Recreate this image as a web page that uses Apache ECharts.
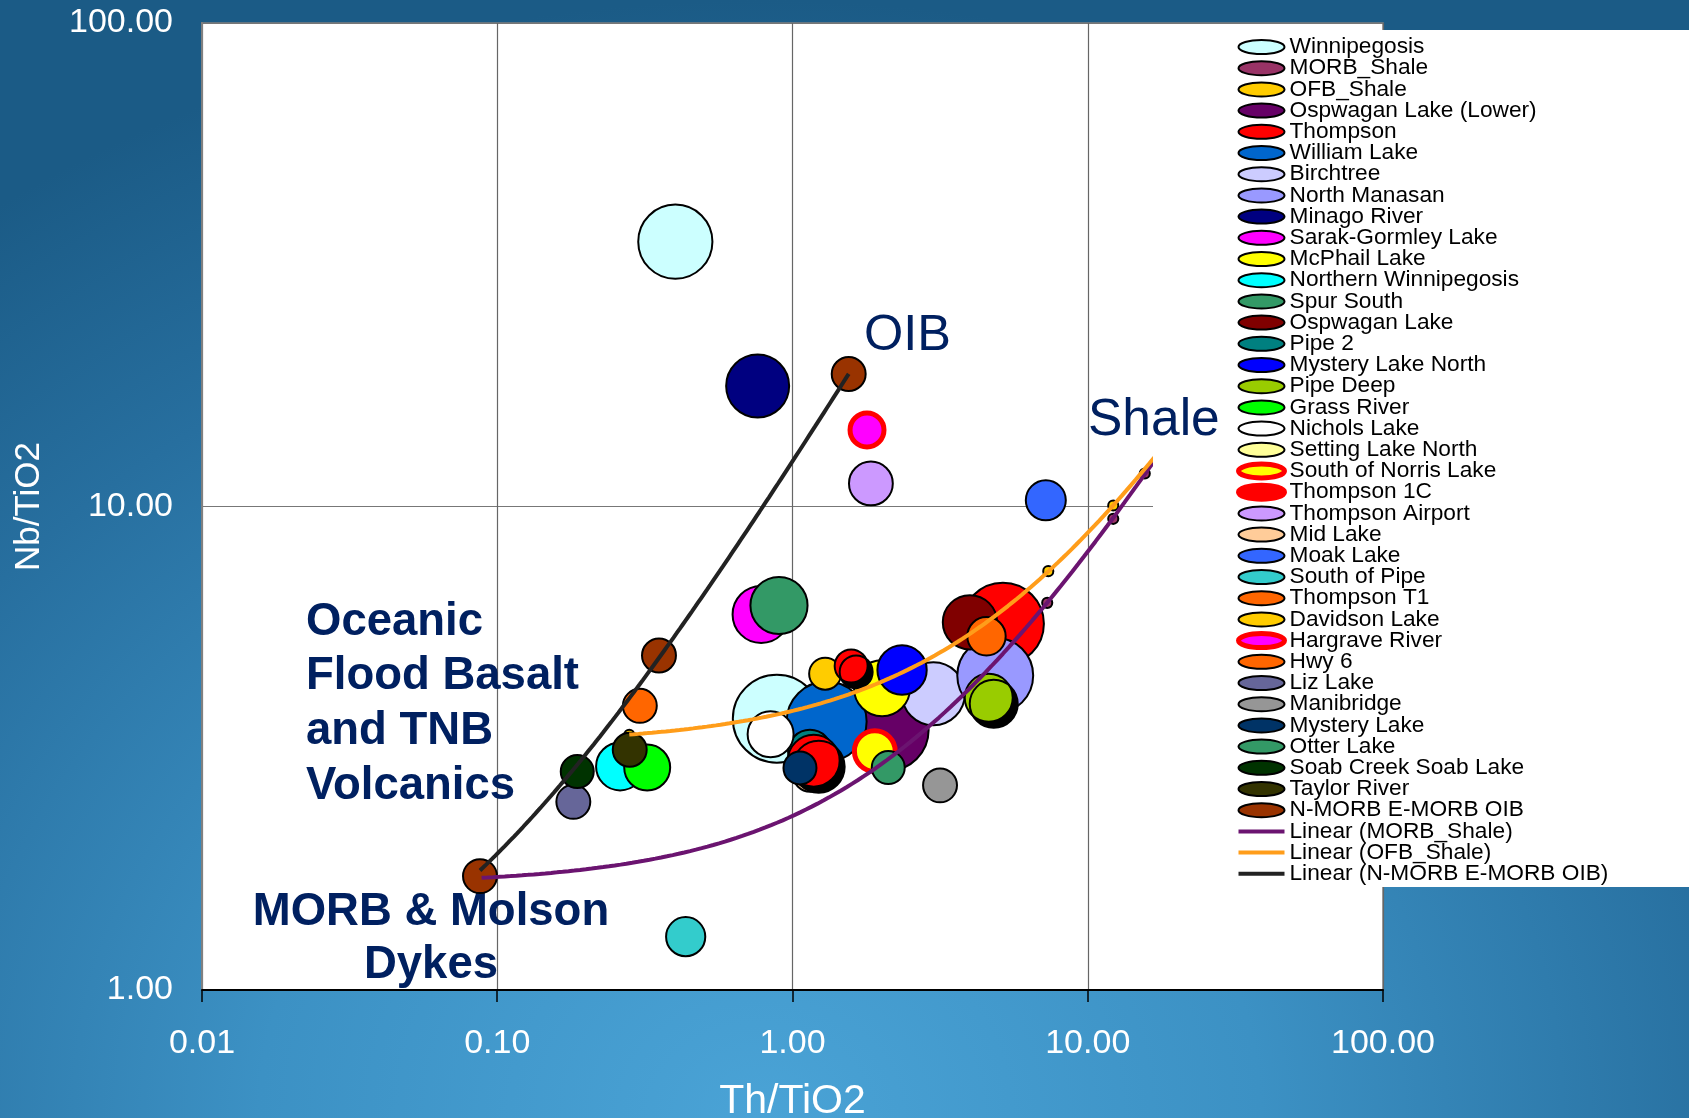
<!DOCTYPE html>
<html>
<head>
<meta charset="utf-8">
<script src="https://cdn.jsdelivr.net/npm/echarts@6/dist/echarts.min.js"></script>
<style>
  html, body { margin: 0; padding: 0; }
  #chart {
    width: 1689px; height: 1118px;
    background: radial-gradient(ellipse 78% 100% at 45% 100%, #4aa3d6 0%, #3c91c4 38%, #276f9f 75%, #1b5b86 100%);
  }
</style>
</head>
<body>
<div id="chart"></div>
<script>
// Th/TiO2 vs Nb/TiO2 — each point is [Th/TiO2, Nb/TiO2, bubble size]
const winnipegosis        = [[0.401, 35.3, 86], [0.885, 3.64, 121]];
const morbShale           = [[0.0885, 1.72, 1.6], [7.29, 6.32, 1.6], [12.2, 9.43, 1.6], [15.6, 11.7, 1.6]];
const ofbShale            = [[0.28, 3.37, 1.6], [7.35, 7.35, 1.6], [12.2, 10.05, 1.6]];
const ospwaganLower       = [[2.10, 3.45, 105]];
const thompson            = [[1.58, 4.68, 17], [1.18, 2.98, 42]];
const williamLake         = [[1.305, 3.59, 100]];
const birchtree           = [[3.0, 4.10, 62]];
const northManasan        = [[4.86, 4.47, 90]];
const minagoRiver         = [[0.762, 17.75, 62]];
const sarakGormley        = [[0.783, 5.98, 51]];
const mcphailLake         = [[2.01, 4.21, 49]];
const northernWinnipegosis= [[0.2606, 2.90, 36]];
const spurSouth           = [[0.90, 6.24, 51]];
const ospwaganLake        = [[3.99, 5.76, 46]];
const pipe2               = [[1.146, 3.11, 30]];
const mysteryLakeNorth    = [[2.35, 4.59, 38]];
const pipeDeep            = [[4.62, 4.02, 36]];
const grassRiver          = [[0.322, 2.885, 33]];
const nicholsLake         = [[0.843, 3.38, 33]];
const settingLakeNorth    = [];
const southOfNorris       = [[1.90, 3.12, 26]];
const thompson1C          = [[5.16, 5.72, 105]];
const thompsonAirport     = [[1.843, 11.16, 30]];
const midLake             = [[1.15, 2.80, 20]];
const moakLake            = [[7.21, 10.3, 25]];
const southOfPipe         = [[0.4347, 1.289, 24]];
const thompsonT1          = [[4.54, 5.39, 23]];
const davidsonLake        = [[1.29, 4.51, 16]];
const hargraveRiver       = [[1.788, 14.4, 18]];
const hwy6                = [[0.304, 3.87, 18]];
const lizLake             = [[0.181, 2.45, 18]];
const manibridge          = [[3.16, 2.65, 18]];
const mysteryLake         = [[1.06, 2.88, 17]];
const otterLake           = [[2.11, 2.885, 17]];
const soabCreek           = [[0.1866, 2.83, 17]];
const taylorRiver         = [[0.281, 3.14, 18]];
const nmorbEmorbOib       = [[0.0874, 1.72, 18], [0.353, 4.92, 18], [1.55, 18.8, 18]];

const xTickLabels = ['0.01', '0.10', '1.00', '10.00', '100.00'];
const yTickLabels = ['1.00', '10.00', '100.00'];

// [name, data, fill, extra style]
const groups = [
  ['Winnipegosis', winnipegosis, '#ccffff'],
  ['MORB_Shale', morbShale, '#993366'],
  ['OFB_Shale', ofbShale, '#ffcc00'],
  ['Ospwagan Lake (Lower)', ospwaganLower, '#660066'],
  ['Thompson', thompson, '#ff0000', { shadow: true, z: 2.1 }],
  ['William Lake', williamLake, '#0066cc'],
  ['Birchtree', birchtree, '#ccccff'],
  ['North Manasan', northManasan, '#9999ff'],
  ['Minago River', minagoRiver, '#000080'],
  ['Sarak-Gormley Lake', sarakGormley, '#ff00ff'],
  ['McPhail Lake', mcphailLake, '#ffff00'],
  ['Northern Winnipegosis', northernWinnipegosis, '#00ffff'],
  ['Spur South', spurSouth, '#339966'],
  ['Ospwagan Lake', ospwaganLake, '#800000'],
  ['Pipe 2', pipe2, '#008080'],
  ['Mystery Lake North', mysteryLakeNorth, '#0000ff'],
  ['Pipe Deep', pipeDeep, '#99cc00', { shadow: true }],
  ['Grass River', grassRiver, '#00ff00'],
  ['Nichols Lake', nicholsLake, '#ffffff'],
  ['Setting Lake North', settingLakeNorth, '#ffff99'],
  ['South of Norris Lake', southOfNorris, '#ffff00', { ring: true }],
  ['Thompson 1C', thompson1C, '#ff0000', { z: 1.9, legendRed: true }],
  ['Thompson Airport', thompsonAirport, '#cc99ff'],
  ['Mid Lake', midLake, '#ffcc99'],
  ['Moak Lake', moakLake, '#3366ff'],
  ['South of Pipe', southOfPipe, '#33cccc'],
  ['Thompson T1', thompsonT1, '#ff6600'],
  ['Davidson Lake', davidsonLake, '#ffcc00'],
  ['Hargrave River', hargraveRiver, '#ff00ff', { ring: true }],
  ['Hwy 6', hwy6, '#ff6600'],
  ['Liz Lake', lizLake, '#666699'],
  ['Manibridge', manibridge, '#969696'],
  ['Mystery Lake', mysteryLake, '#003366', { z: 2.2 }],
  ['Otter Lake', otterLake, '#339966'],
  ['Soab Creek Soab Lake', soabCreek, '#003300'],
  ['Taylor River', taylorRiver, '#333300'],
  ['N-MORB E-MORB OIB', nmorbEmorbOib, '#993300']
];

// least-squares straight line y = a + b·x, drawn over the log axes
function linearTrend(points, xEnd) {
  const n = points.length;
  const mx = points.reduce((s, p) => s + p[0], 0) / n;
  const my = points.reduce((s, p) => s + p[1], 0) / n;
  let sxx = 0, sxy = 0;
  points.forEach(p => { sxx += (p[0] - mx) ** 2; sxy += (p[0] - mx) * (p[1] - my); });
  const b = sxy / sxx, a = my - b * mx;
  const x0 = Math.min(...points.map(p => p[0]));
  const x1 = xEnd || Math.max(...points.map(p => p[0]));
  const out = [];
  const steps = 120;
  for (let i = 0; i <= steps; i++) {
    const x = Math.pow(10, Math.log10(x0) + (Math.log10(x1) - Math.log10(x0)) * i / steps);
    out.push([x, a + b * x]);
  }
  return out;
}

const trends = [
  ['Linear (MORB_Shale)', linearTrend(morbShale, 20), '#6b1470'],
  ['Linear (OFB_Shale)', linearTrend(ofbShale, 20), '#ff9d1a'],
  ['Linear (N-MORB E-MORB OIB)', linearTrend(nmorbEmorbOib), '#222222']
];

const FONT = '"Liberation Sans", Arial, sans-serif';
const ELLIPSE = 'path://M0,7 A23,7 0 1,1 46,7 A23,7 0 1,1 0,7 Z';
const BUBBLE_K = 8;

const series = groups.map(([name, data, fill, extra = {}]) => {
  const itemStyle = {
    color: fill,
    borderColor: extra.ring ? '#ff0000' : '#000000',
    borderWidth: extra.ring ? 5 : 2,
    opacity: 1
  };
  if (extra.shadow) {
    itemStyle.shadowColor = '#000000';
    itemStyle.shadowBlur = 0;
    itemStyle.shadowOffsetX = 5;
    itemStyle.shadowOffsetY = 6;
  }
  return {
    name, type: 'scatter', data,
    symbol: 'circle',
    symbolSize: v => BUBBLE_K * Math.sqrt(v[2]),
    itemStyle,
    emphasis: { disabled: true },
    z: extra.z || 2
  };
}).concat(trends.map(([name, data, color]) => ({
  name, type: 'line', data,
  symbol: 'none', showSymbol: false, smooth: false,
  lineStyle: { color, width: 4 },
  itemStyle: { color },
  emphasis: { disabled: true },
  z: 2.5, silent: true
})));

const legendData = groups.map(([name, , fill, extra = {}]) => {
  const item = { name, icon: ELLIPSE };
  if (extra.ring || extra.legendRed) {
    item.itemStyle = { borderColor: '#ff0000', borderWidth: 5 };
  }
  return item;
}).concat(trends.map(([name, , color]) => ({
  name,
  lineStyle: { color, width: 4 },
  itemStyle: { color: 'rgba(0,0,0,0)', borderColor: 'rgba(0,0,0,0)', borderWidth: 0 }
})));

const chart = echarts.init(document.getElementById('chart'), null, { renderer: 'canvas' });
chart.setOption({
  backgroundColor: 'transparent',
  animation: false,
  grid: {
    left: 202, right: 306, top: 23, bottom: 128,
    containLabel: false, outerBoundsMode: 'none',
    show: true, backgroundColor: '#ffffff', borderColor: '#808080', borderWidth: 1.5
  },
  xAxis: {
    type: 'log', logBase: 10, min: 0.01, max: 100, splitNumber: 4,
    name: 'Th/TiO2', nameLocation: 'middle', nameGap: 91,
    nameTextStyle: { color: '#ffffff', fontSize: 41, fontFamily: FONT },
    axisLine: { show: true, lineStyle: { color: '#000000', width: 2 } },
    axisTick: { show: true, inside: false, length: 12, lineStyle: { color: '#000000', width: 1.5 } },
    axisLabel: {
      color: '#ffffff', fontSize: 34, fontFamily: FONT, margin: 37,
      showMinLabel: true, showMaxLabel: true,
      formatter: v => xTickLabels[Math.round(Math.log10(v)) + 2]
    },
    splitLine: { show: true, lineStyle: { color: '#666666', width: 1.2 } }
  },
  yAxis: {
    type: 'log', logBase: 10, min: 1, max: 100, splitNumber: 2,
    name: 'Nb/TiO2', nameLocation: 'middle', nameGap: 155, nameRotate: 90,
    nameTextStyle: { color: '#ffffff', fontSize: 35, fontFamily: FONT },
    axisLine: { show: true, lineStyle: { color: '#808080', width: 2 } },
    axisTick: { show: false },
    axisLabel: {
      color: '#ffffff', fontSize: 34, fontFamily: FONT, margin: 29,
      showMinLabel: true, showMaxLabel: true,
      formatter: v => yTickLabels[Math.round(Math.log10(v))]
    },
    splitLine: { show: true, lineStyle: { color: '#777777', width: 1.2 } }
  },
  legend: {
    orient: 'vertical', left: 1236, top: 35.5, padding: 0,
    itemWidth: 46, itemHeight: 14, itemGap: -1.8,
    textStyle: { color: '#000000', fontSize: 22.7, fontFamily: FONT, lineHeight: 21.2 },
    selectedMode: false,
    z: 4,
    data: legendData
  },
  graphic: [
    { type: 'rect', z: 3, silent: true, shape: { x: 1153, y: 30, width: 536, height: 857 }, style: { fill: '#ffffff' } },
    { type: 'text', z: 1, silent: true, style: { x: 864, y: 336, text: 'OIB', fill: '#002060', font: '50.5px ' + FONT, textVerticalAlign: 'middle' } },
    { type: 'text', z: 5, silent: true, style: { x: 1088, y: 421, text: 'Shale', fill: '#002060', font: '51.5px ' + FONT, textVerticalAlign: 'middle' } },
    { type: 'text', z: 1, silent: true, style: {
        x: 306, y: 595, text: 'Oceanic\nFlood Basalt\nand TNB\nVolcanics', fill: '#002060',
        font: 'bold 45.5px ' + FONT, lineHeight: 54.6, textVerticalAlign: 'top' } },
    { type: 'text', z: 1, silent: true, style: {
        x: 431, y: 886, text: 'MORB & Molson\nDykes', fill: '#002060',
        font: 'bold 45.5px ' + FONT, lineHeight: 53, textAlign: 'center', textVerticalAlign: 'top' } }
  ],
  series
});
</script>
</body>
</html>
